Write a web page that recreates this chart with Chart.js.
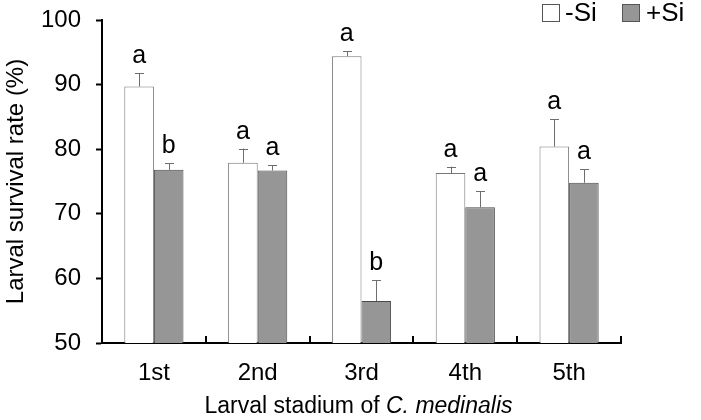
<!DOCTYPE html>
<html>
<head>
<meta charset="utf-8">
<script src="https://cdn.jsdelivr.net/npm/chart.js@4"></script>
<style>
  html, body { margin: 0; padding: 0; background: #fff; }
  #wrap { width: 701px; height: 420px; }
</style>
</head>
<body>
<div id="wrap"><canvas id="chart_root"></canvas></div>
<script>
// data
const stages = ['1st', '2nd', '3rd', '4th', '5th'];
const minusSi = [89.7, 77.9, 94.4, 76.3, 80.4];
const plusSi = [76.8, 76.7, 56.5, 71.0, 74.8];
const minusSiErr = [2.1, 2.2, 0.8, 1.0, 4.2];
const plusSiErr = [1.0, 0.8, 3.2, 2.5, 2.1];
const minusSiLetters = ['a', 'a', 'a', 'a', 'a'];
const plusSiLetters = ['b', 'a', 'b', 'a', 'a'];
const yTicks = [50, 60, 70, 80, 90, 100];

const FONT = 'Arial, "Liberation Sans", sans-serif';
const errs = [minusSiErr, plusSiErr];
const letters = [minusSiLetters, plusSiLetters];

// error bars, letters, legend, inward x ticks and the x title
const extras = {
  id: 'extras',
  afterDatasetsDraw(chart) {
    const ctx = chart.ctx;
    const y = chart.scales.y;
    const area = chart.chartArea;
    ctx.save();
    chart.data.datasets.forEach((ds, d) => {
      const meta = chart.getDatasetMeta(d);
      meta.data.forEach((bar, i) => {
        const top = y.getPixelForValue(ds.data[i]);
        const errTop = y.getPixelForValue(ds.data[i] + errs[d][i]);
        const bx = Math.round(bar.x) + 0.5;
        ctx.strokeStyle = '#6e6e6e';
        ctx.lineWidth = 1;
        ctx.beginPath();
        ctx.moveTo(bx, top);
        ctx.lineTo(bx, errTop);
        ctx.moveTo(bx - 4.5, Math.round(errTop) + 0.5);
        ctx.lineTo(bx + 4.5, Math.round(errTop) + 0.5);
        ctx.stroke();
        ctx.fillStyle = '#000';
        ctx.font = '25px ' + FONT;
        ctx.textAlign = 'center';
        ctx.textBaseline = 'alphabetic';
        ctx.fillText(letters[d][i], bar.x, errTop - 10);
      });
    });

    // x ticks between categories, pointing up
    const step = (area.right - area.left) / stages.length;
    ctx.strokeStyle = '#000';
    ctx.lineWidth = 2;
    ctx.beginPath();
    for (let k = 1; k <= stages.length; k++) {
      const px = Math.round(area.left + k * step);
      ctx.moveTo(px, area.bottom);
      ctx.lineTo(px, area.bottom - 7);
    }
    ctx.stroke();

    // legend
    ctx.lineWidth = 1;
    ctx.strokeStyle = '#555';
    ctx.fillStyle = '#fff';
    ctx.fillRect(542.5, 4.5, 17, 17);
    ctx.strokeRect(542.5, 4.5, 17, 17);
    ctx.fillStyle = '#969696';
    ctx.fillRect(622.5, 4.5, 17, 17);
    ctx.strokeRect(622.5, 4.5, 17, 17);
    ctx.fillStyle = '#000';
    ctx.font = '26px ' + FONT;
    ctx.textAlign = 'left';
    ctx.textBaseline = 'middle';
    ctx.fillText('-Si', 565, 14);
    ctx.fillText('+Si', 646, 14);

    // x title with italic species name
    const p1 = 'Larval stadium of ';
    const p2 = 'C. medinalis';
    ctx.font = '23px ' + FONT;
    const w1 = ctx.measureText(p1).width;
    ctx.font = 'italic 23px ' + FONT;
    const w2 = ctx.measureText(p2).width;
    const cx = (area.left + area.right) / 2 - 3;
    const x0 = cx - (w1 + w2) / 2;
    ctx.textBaseline = 'middle';
    ctx.font = '23px ' + FONT;
    ctx.fillText(p1, x0, 407);
    ctx.font = 'italic 23px ' + FONT;
    ctx.fillText(p2, x0 + w1, 407);
    ctx.restore();
  }
};

const ctx = document.getElementById('chart_root');

new Chart(ctx, {
  type: 'bar',
  data: {
    labels: stages,
    datasets: [
      {
        label: '-Si',
        data: minusSi,
        backgroundColor: '#ffffff',
        borderColor: '#777777',
        borderWidth: 1,
        borderSkipped: 'bottom'
      },
      {
        label: '+Si',
        data: plusSi,
        backgroundColor: '#969696',
        borderColor: '#4a4a4a',
        borderWidth: 1,
        borderSkipped: 'bottom'
      }
    ]
  },
  options: {
    responsive: true,
    maintainAspectRatio: false,
    animation: false,
    layout: { padding: { left: 0, right: 80, top: 20, bottom: 0 } },
    datasets: { bar: { categoryPercentage: 0.57, barPercentage: 1 } },
    plugins: {
      legend: { display: false },
      tooltip: { enabled: false }
    },
    scales: {
      x: {
        grid: { display: true, drawOnChartArea: false, drawTicks: false },
        border: { display: true, color: '#000', width: 2 },
        ticks: { color: '#000', font: { size: 24, family: FONT }, padding: 16 },
        afterFit(scale) {
          scale.height = 77;
          scale.paddingLeft = 0;
          scale.paddingRight = 0;
        }
      },
      y: {
        min: 50,
        max: 100,
        afterBuildTicks(scale) { scale.ticks = yTicks.map(v => ({ value: v })); },
        grid: { drawOnChartArea: false, drawTicks: true, tickLength: 6, color: '#000', tickWidth: 2 },
        border: { display: true, color: '#000', width: 2 },
        ticks: { color: '#000', font: { size: 24, family: FONT }, padding: 15 },
        title: {
          display: true,
          text: 'Larval survival rate (%)',
          color: '#000',
          font: { size: 24, family: FONT },
          padding: { top: 2, bottom: 0 }
        },
        afterFit(scale) {
          scale.width = 102;
          scale.paddingTop = 0;
          scale.paddingBottom = 0;
        }
      }
    }
  },
  plugins: [extras]
});
</script>
</body>
</html>
